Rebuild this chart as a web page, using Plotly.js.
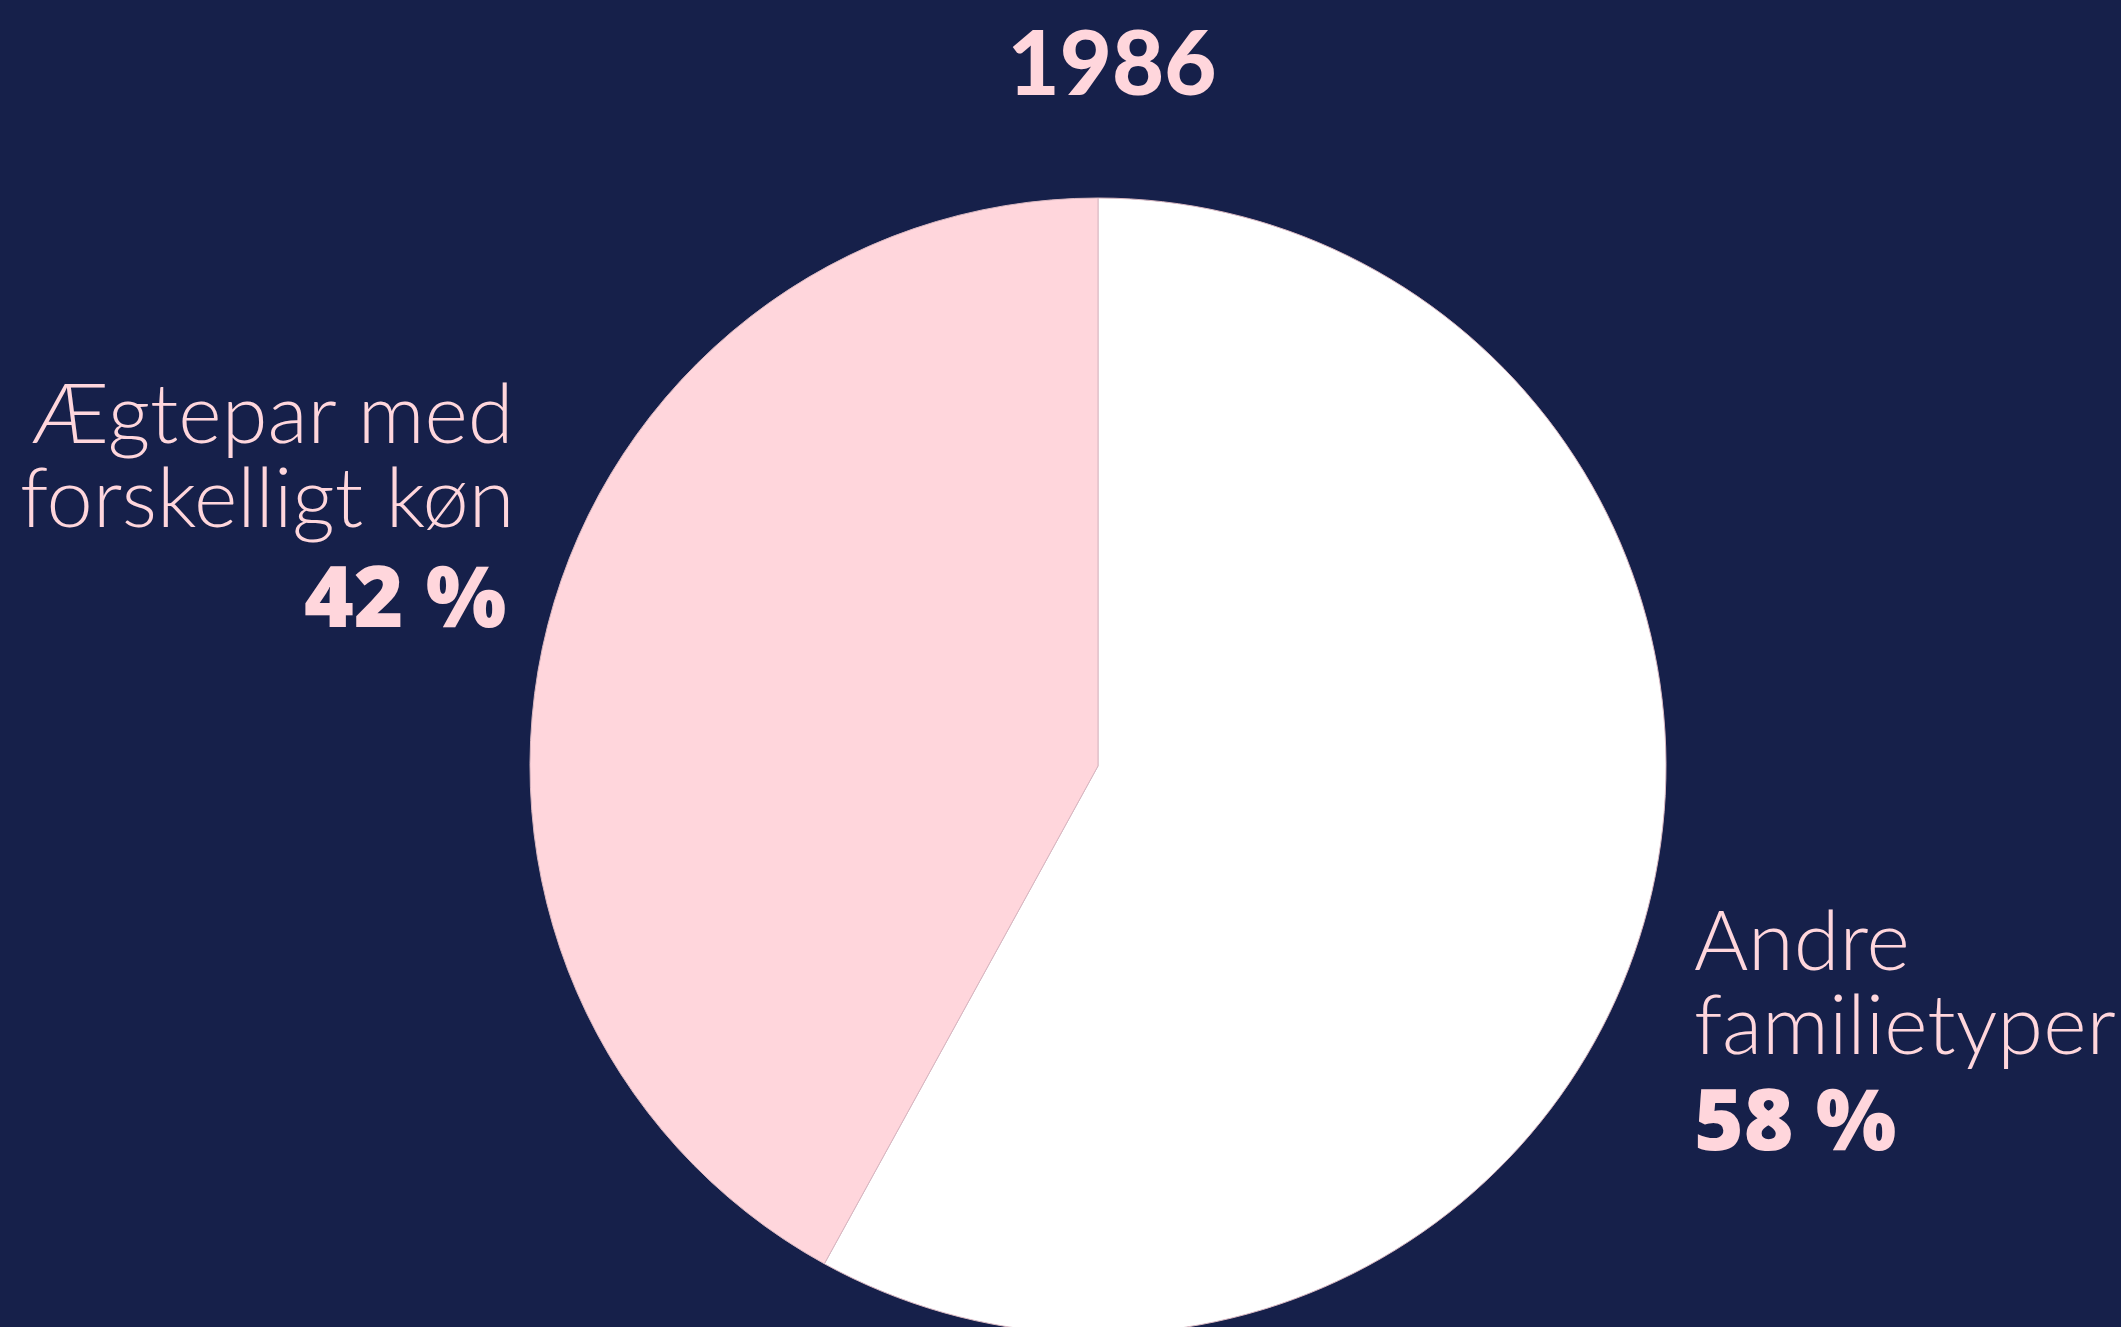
<!DOCTYPE html>
<html>
<head>
<meta charset="utf-8">
<script src="https://cdn.plot.ly/plotly-3.0.1.min.js"></script>
<style>
html, body { margin: 0; padding: 0; overflow: hidden; background: #16204a; }
#chart { width: 2121px; height: 1340px; }
</style>
</head>
<body>
<div id="chart"></div>
<script>
// Data (order as drawn: clockwise from 12 o'clock)
const year = "1986";
const categories = ["Andre familietyper", "Ægtepar med forskelligt køn"];
const labelLines = [["Andre", "familietyper"], ["Ægtepar med", "forskelligt køn"]];
const values = [58, 42];
const sliceColors = ["#ffffff", "#ffd6dc"];

const W = 2121, H = 1340;
const BG = "#16204a", PINK = "#ffd6dc";
const px = x => x / W;
const py = y => 1 - y / H;

const LIGHT = "Lato, 'Open Sans', sans-serif";
const HEAVY = "'Open Sans', Lato, sans-serif";
const fsLabel = 83, fsPct = 85;

const trace = {
  type: "pie",
  labels: categories,
  values: values,
  sort: false,
  direction: "clockwise",
  rotation: 0,
  textinfo: "none",
  hoverinfo: "none",
  marker: { colors: sliceColors, line: { color: "#d9b8c2", width: 1 } },
  domain: { x: [px(1098 - 568), px(1098 + 568)], y: [py(1334), py(198)] },
  showlegend: false
};

const annotations = [];
// left block (right aligned) -> second category
const leftX = 516;
const leftMids = [411, 495];
labelLines[1].forEach((t, i) => annotations.push({
  text: t, xref: "paper", yref: "paper", x: px(leftX), y: py(leftMids[i]),
  xanchor: "right", yanchor: "middle", align: "right", showarrow: false,
  font: { family: LIGHT, size: fsLabel, color: PINK, weight: 300 }
}));
annotations.push({
  text: values[1] + " %", xref: "paper", yref: "paper", x: px(leftX - 8), y: py(594),
  xanchor: "right", yanchor: "middle", align: "right", showarrow: false,
  font: { family: HEAVY, size: fsPct, color: PINK, weight: 800 }
});
// right block (left aligned) -> first category
const rightX = 1692;
const rightMids = [938, 1022];
labelLines[0].forEach((t, i) => annotations.push({
  text: t, xref: "paper", yref: "paper", x: px(rightX), y: py(rightMids[i]),
  xanchor: "left", yanchor: "middle", align: "left", showarrow: false,
  font: { family: LIGHT, size: fsLabel, color: PINK, weight: 300 }
}));
annotations.push({
  text: values[0] + " %", xref: "paper", yref: "paper", x: px(rightX), y: py(1117),
  xanchor: "left", yanchor: "middle", align: "left", showarrow: false,
  font: { family: HEAVY, size: fsPct, color: PINK, weight: 800 }
});

const layout = {
  width: W, height: H,
  margin: { l: 0, r: 0, t: 0, b: 0, pad: 0 },
  paper_bgcolor: BG, plot_bgcolor: BG,
  title: {
    text: year, x: px(1112), xanchor: "center", xref: "paper",
    y: py(63), yanchor: "middle", yref: "container",
    font: { family: LIGHT, size: 90, color: PINK, weight: 900 }
  },
  annotations: annotations,
  showlegend: false
};

Plotly.newPlot("chart", [trace], layout, { displayModeBar: false, staticPlot: true });
</script>
</body>
</html>
